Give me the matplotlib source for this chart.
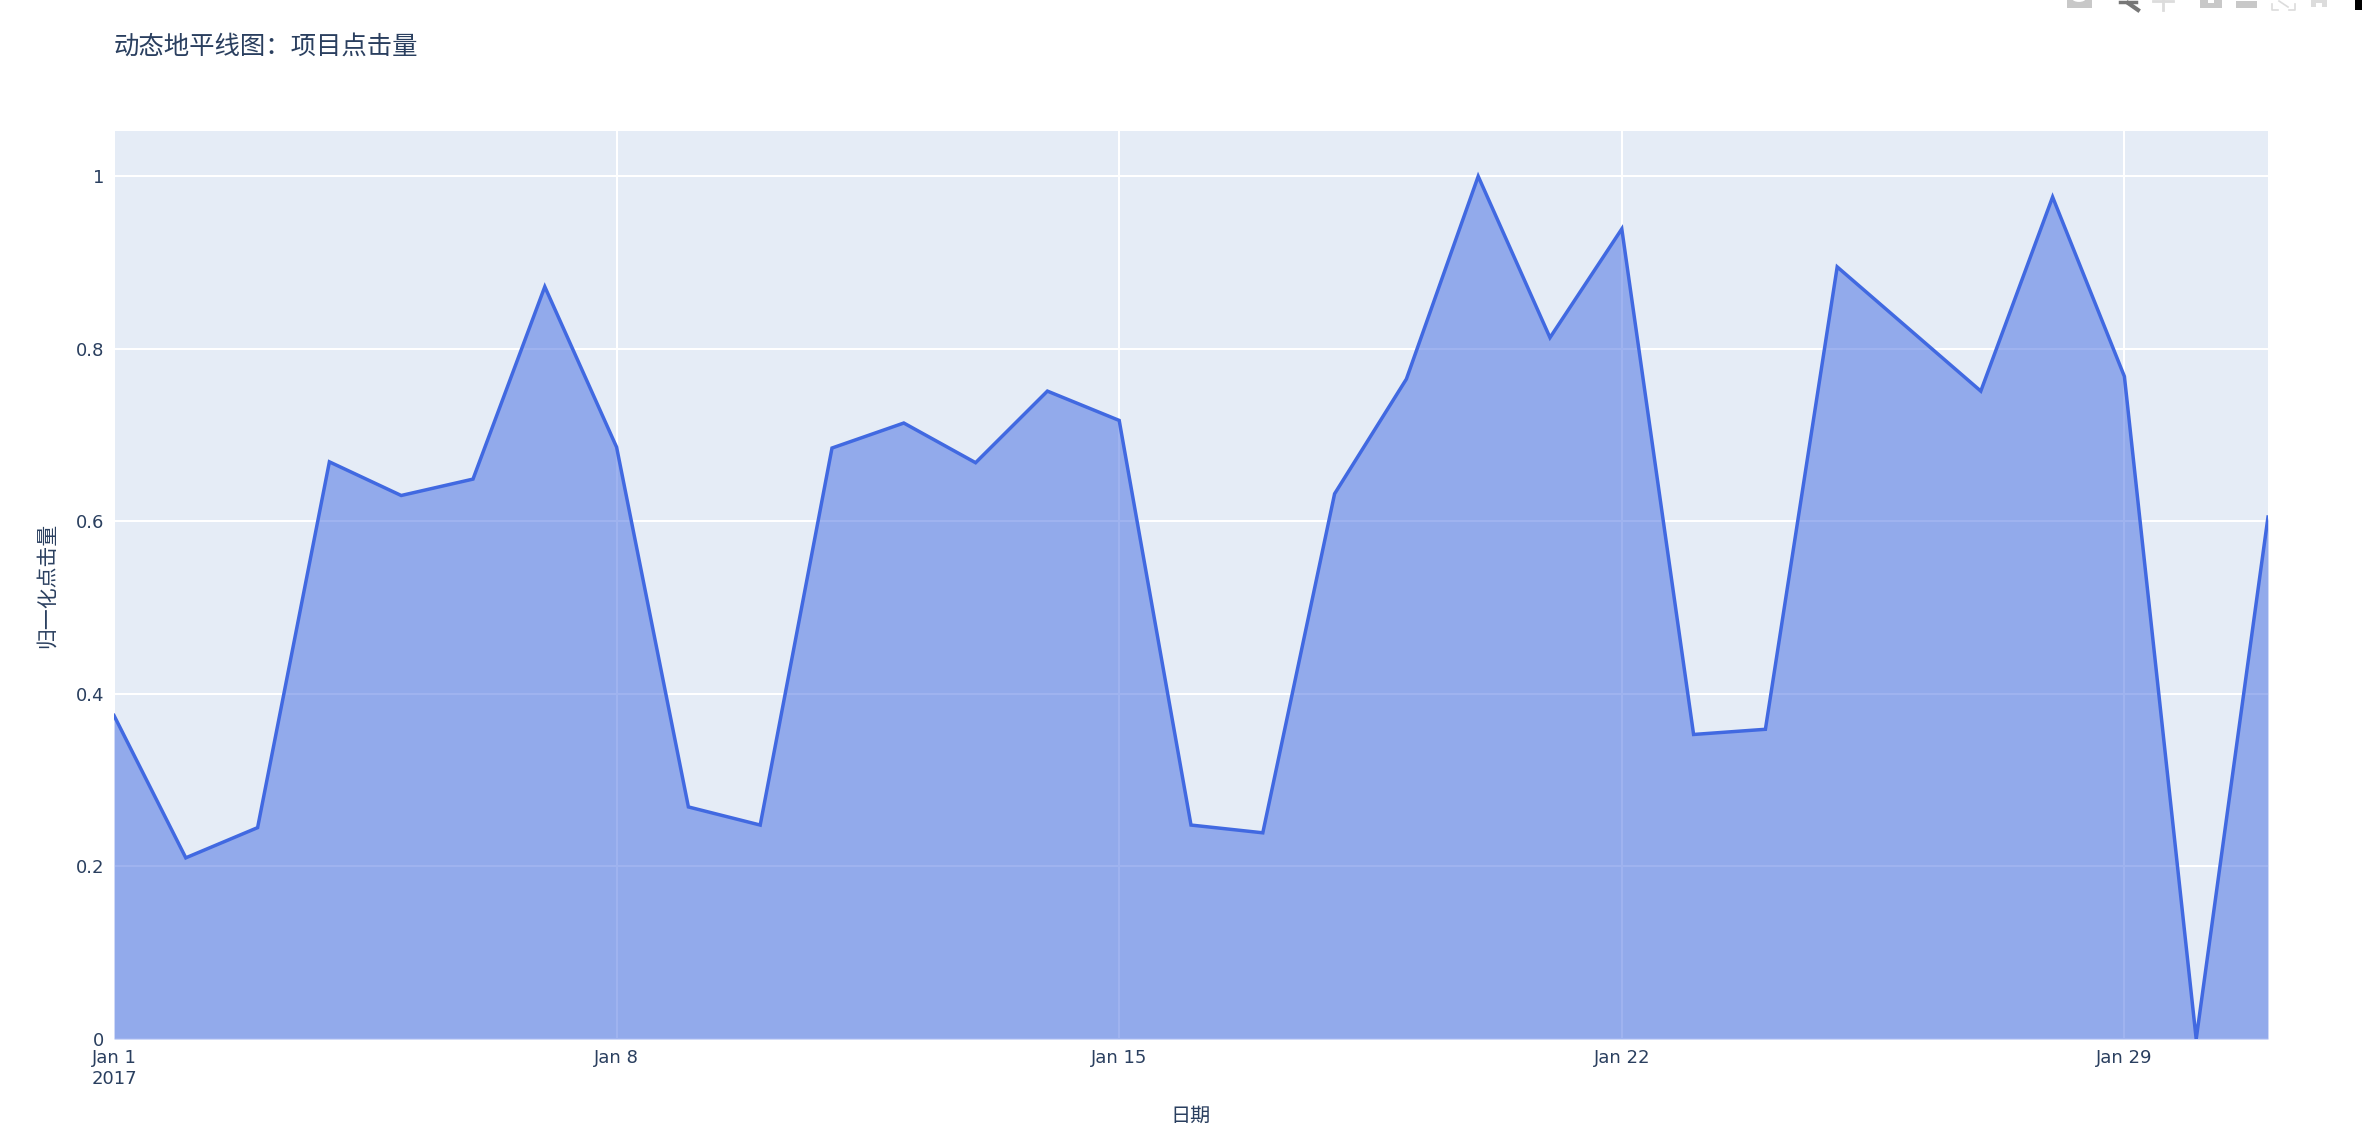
import matplotlib
matplotlib.use('Agg')
import matplotlib.pyplot as plt
from matplotlib.lines import Line2D
from matplotlib.patches import Rectangle, Circle
import pandas as pd

plt.rcParams['font.family'] = ['DejaVu Sans', 'Noto Sans CJK SC']

# values
dates = pd.date_range('2017-01-01', periods=31, freq='D')
clicks = [0.375, 0.21, 0.245, 0.669, 0.63, 0.649, 0.872, 0.686, 0.269, 0.248,
          0.685, 0.714, 0.668, 0.751, 0.717, 0.248, 0.239, 0.632, 0.765, 1.0,
          0.813, 0.939, 0.353, 0.359, 0.895, 0.823, 0.751, 0.976, 0.768, 0.0, 0.605]
y_ticks = [0, 0.2, 0.4, 0.6, 0.8, 1]
y_labels = ['0', '0.2', '0.4', '0.6', '0.8', '1']
x_ticks = pd.to_datetime(['2017-01-01', '2017-01-08', '2017-01-15', '2017-01-22', '2017-01-29'])
x_labels = ['Jan 1\n2017', 'Jan 8', 'Jan 15', 'Jan 22', 'Jan 29']

title = '动态地平线图：项目点击量'
x_title = '日期'
y_title = '归一化点击量'

W, H = 2362, 1134
text_col = '#2a3f5f'
line_col = '#4169e1'

fig = plt.figure(figsize=(W / 100, H / 100), dpi=100, facecolor='white')
# plot area in pixels
left, right, top, bottom = 114, 2268, 131, 1039
ax = fig.add_axes([left / W, 1 - bottom / H, (right - left) / W, (bottom - top) / H])
ax.set_facecolor('#e5ecf6')

ax.grid(True, color='white', linewidth=1.45, zorder=1)
ax.set_axisbelow(True)
ax.fill_between(dates, clicks, 0, color=line_col, alpha=0.5, linewidth=0, zorder=2)
ax.plot(dates, clicks, color=line_col, linewidth=2.5, zorder=3, solid_joinstyle='miter')

ax.set_xlim(dates[0], dates[-1])
ax.set_ylim(0, 1.0525)
ax.set_xticks(x_ticks)
ax.set_xticklabels(x_labels, color=text_col, fontsize=13, linespacing=1.25)
ax.set_yticks(y_ticks)
ax.set_yticklabels(y_labels, color=text_col, fontsize=13)
ax.tick_params(length=0, pad=7)
for s in ax.spines.values():
    s.set_visible(False)

fig.text(114 / W, 1 - 47 / H, title, fontsize=18.3, color=text_col, ha='left', va='center')
fig.text(1191 / W, 1 - 1116 / H, x_title, fontsize=14.5, color=text_col, ha='center', va='center')
fig.text(47 / W, 1 - 585 / H, y_title, fontsize=15, color=text_col, ha='center', va='center',
         rotation=90)

# modebar icons, cut off by the top edge of the screenshot
grey = '#c8c8c8'
light = '#dcdcdc'


def px_rect(x0, y0, x1, y1, col):
    fig.add_artist(Rectangle((x0 / W, 1 - y1 / H), (x1 - x0) / W, (y1 - y0) / H,
                             transform=fig.transFigure, color=col, linewidth=0))


def px_line(xs, ys, col, lw):
    fig.add_artist(Line2D([x / W for x in xs], [1 - y / H for y in ys], color=col, linewidth=lw))


# camera
px_rect(2067, 0, 2092, 8, grey)
fig.add_artist(Circle((2079 / W, 1 + 2 / H), 6 / W, transform=fig.transFigure, facecolor='none',
                      edgecolor='white', linewidth=1.5))
# magnifier
px_line([2120, 2136], [2, 2], '#777777', 2.5)
px_line([2128, 2138], [3, 10], '#777777', 3)
# pan
px_line([2163, 2163], [0, 10], light, 2)
px_line([2153, 2173], [1, 1], light, 2)
# zoom in, zoom out
px_rect(2200, 0, 2222, 8, grey)
px_rect(2208, 0, 2214, 3, 'white')
px_rect(2236, 1, 2257, 8, grey)
# autoscale corners
px_line([2272, 2272, 2278], [4, 10, 10], light, 1.2)
px_line([2289, 2295, 2295], [10, 10, 4], light, 1.2)
px_line([2279, 2288], [1, 7], light, 1.2)
# home
px_rect(2311, 0, 2327, 7, light)
px_rect(2316, 3, 2322, 7, 'white')
# logo
px_rect(2355, 0, 2362, 10, 'black')

fig.savefig('out.png', dpi=100, facecolor='white')
